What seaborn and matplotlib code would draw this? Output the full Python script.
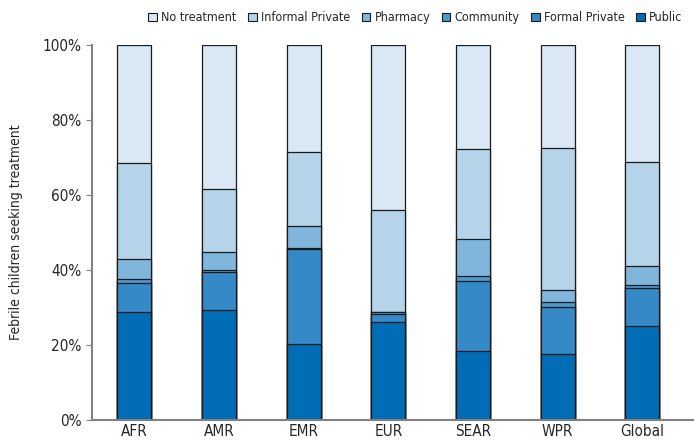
import numpy as np
import pandas as pd
from matplotlib import pyplot as plt
from matplotlib.patches import Patch
import seaborn as sns

# regions and share of febrile children by source of treatment (%)
regions = ['AFR', 'AMR', 'EMR', 'EUR', 'SEAR', 'WPR', 'Global']
public = [28.7, 29.3, 20.4, 26.1, 18.4, 17.6, 25.0]
formal_private = [7.9, 10.3, 25.2, 2.2, 18.8, 12.6, 10.2]
community = [0.9, 0.5, 0.3, 0.4, 1.1, 1.3, 0.9]
pharmacy = [5.4, 4.6, 5.8, 0.2, 10.0, 3.1, 5.1]
informal_private = [25.6, 16.9, 19.7, 27.2, 24.1, 38.0, 27.7]
no_treatment = [31.5, 38.4, 28.6, 43.9, 27.6, 27.4, 31.1]

labels = ['No treatment', 'Informal Private', 'Pharmacy', 'Community', 'Formal Private', 'Public']
colors = ['#dae8f5', '#b5d4ea', '#80b6dc', '#4a9ad0', '#3589c6', '#006db6']

sns.set_style('white')
plt.rcParams['font.family'] = ['DejaVu Sans']
plt.rcParams['font.stretch'] = 'condensed'

# bottom-to-top order for stacking
layers = [public, formal_private, community, pharmacy, informal_private, no_treatment]
cum = np.cumsum(np.array(layers), axis=0)

fig = plt.figure(figsize=(6.94, 4.46), dpi=100)
ax = fig.add_axes([0.1326, 0.0583, 0.866, 0.8407])

# draw cumulative bars from the top layer down so each lower layer overlays
for i in range(len(layers) - 1, -1, -1):
    df = pd.DataFrame({'region': regions, 'value': cum[i]})
    sns.barplot(data=df, x='region', y='value', color=colors[len(layers) - 1 - i],
                saturation=1, width=0.4, edgecolor='#1a1a1a', linewidth=0.9, ax=ax)

ax.set_xlim(-0.5, 6.6)
ax.set_ylim(0, 100)
ax.set_yticks(np.arange(0, 101, 20))
ax.set_yticklabels([f'{v}%' for v in range(0, 101, 20)], fontsize=11)
ax.set_xticks(range(len(regions)))
ax.set_xticklabels(regions, fontsize=11)
ax.set_xticks(np.arange(-0.5, 7, 1), minor=True)
ax.tick_params(axis='x', which='major', length=0, pad=3)
ax.tick_params(axis='x', which='minor', length=4, color='#808080', direction='out')
ax.tick_params(axis='y', length=4, color='#808080', direction='out', left=True)
ax.set_xlabel('')
ax.set_ylabel('Febrile children seeking treatment', fontsize=10)
ax.yaxis.set_label_coords(-0.115, 0.5)
for s in ['top', 'right']:
    ax.spines[s].set_visible(False)
for s in ['left', 'bottom']:
    ax.spines[s].set_color('#808080')
    ax.spines[s].set_linewidth(1.5)

handles = [Patch(facecolor=c, edgecolor='#1a1a1a', linewidth=0.8) for c in colors]
fig.legend(handles, labels, loc='upper right', bbox_to_anchor=(1.0, 1.0), ncol=6,
           frameon=False, fontsize=9, handlelength=0.7, handleheight=0.7,
           handletextpad=0.35, columnspacing=0.9)

fig.savefig('out.png', dpi=100)
